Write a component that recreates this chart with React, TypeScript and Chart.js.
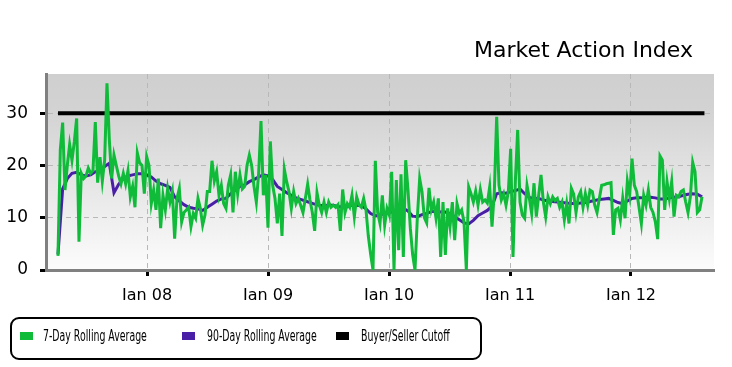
import React, { useEffect, useRef } from 'react';
import { Chart, registerables } from 'chart.js';

Chart.register(...registerables);

const TITLE = 'Market Action Index';
const SERIES_LABELS = ['7-Day Rolling Average', '90-Day Rolling Average', 'Buyer/Seller Cutoff'];
const SERIES_COLORS = ['#10bb3a', '#4a1fa8', '#000000'];

const X_TICK_YEARS = [2008, 2009, 2010, 2011, 2012];
const X_TICK_LABELS = ['Jan 08', 'Jan 09', 'Jan 10', 'Jan 11', 'Jan 12'];
const Y_TICKS = [0, 10, 20, 30];
const X_MIN = 2007.165;
const X_MAX = 2012.686;
const Y_MAX = 37.5;

// first and last weekly reading (fractional years)
const SERIES_START = 2007.264;
const SERIES_END = 2012.587;
const CUTOFF = 30;

// 7-day rolling average, weekly readings
const GREEN_2007 = [2.7, 23, 28.2, 15.3, 20, 24, 21, 24.5, 29, 5.4, 18.5, 17.5, 18, 19.5, 18.5, 19, 28.3, 16.7, 21.6, 17, 21, 35.7, 25, 17.5, 22, 20, 18, 16.5, 18.5, 16.5, 19, 14, 16, 12, 22.4, 20.5, 20, 14.6, 21.7];
const GREEN_2008 = [20, 12.7, 15.3, 11.5, 17.5, 8, 14.3, 11.5, 15.6, 13, 15, 6, 13.7, 15.6, 9.2, 11, 11.5, 12, 8.3, 10.8, 9.9, 13.7, 11.8, 8.6, 10.5, 15, 15, 20.9, 17, 18.8, 14.3, 16.2, 12.7, 11.8, 16.2, 18.2, 11, 18.8, 14.6, 18.2, 15.5, 16, 20, 22, 20, 16, 13, 18.5, 28.5, 14.3, 18.2, 8.1];
const GREEN_2009 = [24.6, 16.2, 13.7, 8.9, 14.6, 6.5, 19.3, 16.9, 15, 11.8, 15, 12.7, 13.7, 12.4, 11, 13.7, 16.4, 13.4, 11, 7.5, 14.8, 12.4, 11, 13, 11, 13, 12, 12.4, 12, 12.5, 7.5, 15.4, 11, 12.7, 12, 14.3, 10.2, 14, 12.5, 12, 13.7, 11.5, 6.5, 3, 0, 20.9, 11, 8.9, 14.3, 8.6, 11.8];
const GREEN_2010 = [10.5, 18.8, 0, 17.2, 3.8, 18.3, 2.5, 21, 15.3, 8, 2.9, 0, 10, 17.5, 15, 10, 9, 15.7, 11.5, 13, 9.9, 13.7, 2.5, 13, 2.9, 11.8, 8.3, 13, 5.7, 12.7, 10.8, 11.5, 9.2, 0, 15.9, 14.6, 13, 15.1, 12.4, 15.4, 13, 13.4, 12.8, 15.9, 8.3, 15, 29.3, 16.2, 13.4, 14.6, 12.4, 15];
const GREEN_2011 = [23.2, 2.5, 16.9, 26.8, 13, 10.5, 9.9, 16.2, 13.7, 10.8, 16.6, 10.2, 14.3, 18.2, 13, 10.2, 14, 12.7, 14, 13.3, 13.7, 12, 13, 9.6, 12.7, 8.9, 15.6, 14.5, 11, 14, 15, 12, 14.6, 12.4, 15.3, 15, 12.4, 11, 13.7, 16.2, 16.3, 16.5, 16.6, 16.7, 6.7, 11.5, 11.8, 9.6, 13.7, 9.9, 17, 14.3];
const GREEN_2012 = [21.3, 16.2, 15, 12, 8.9, 14.3, 12.4, 15.3, 12, 11, 9.2, 5.9, 21.8, 21, 11.5, 16.9, 13.7, 16.9, 10.2, 14.3, 14, 15, 15.3, 13, 11, 14, 20.6, 18.8, 11, 11.5, 14];

// 90-day rolling average, every second week
const PURPLE_2007 = [3, 15.5, 17.5, 18.5, 18.7, 18.2, 18, 18.2, 18.8, 18.8, 19.8, 20.4, 14.8, 16.4, 17.5, 18, 18.2, 18.4, 18.4, 18.2];
const PURPLE_2008 = [17.8, 17, 16.5, 16.2, 15.8, 14, 13.2, 12.5, 12, 11.8, 11.7, 11.4, 12, 12.6, 13.2, 13.6, 13.7, 14.6, 15.3, 16, 16.3, 16.9, 17.3, 17.8, 18.2, 18];
const PURPLE_2009 = [17.3, 16, 15.4, 14.8, 14.3, 13.8, 13.5, 13.2, 12.9, 12.6, 12.4, 12.3, 12.4, 12.4, 12.1, 12.1, 12.1, 12.4, 12.4, 12.3, 11.7, 10.8, 10.4, 10.5, 10.8];
const PURPLE_2010 = [11, 11.2, 11.5, 11.8, 11.3, 10.3, 10.2, 10.6, 10.8, 11.2, 11.2, 11.1, 11.1, 10.8, 10.2, 9.6, 9, 8.8, 9.5, 10.4, 10.9, 11.4, 12.2, 14.6, 14.8, 14.7];
const PURPLE_2011 = [15, 15.2, 15.5, 14.6, 13.9, 13.7, 13.7, 13.4, 13.2, 13.1, 13, 12.9, 12.8, 12.7, 12.7, 12.8, 12.9, 13.1, 13.3, 13.5, 13.6, 13.7, 13.3, 12.9, 12.7, 13.2];
const PURPLE_2012 = [13.7, 13.8, 13.8, 13.9, 13.9, 13.8, 13.6, 13.6, 13.8, 13.9, 14, 14.3, 14.5, 14.6, 14.5, 14];

const FONT = "'DejaVu Sans', sans-serif";

const bgPlugin = {
  id: 'plotBackground',
  beforeDraw(chart: any) {
    const { ctx, chartArea: a } = chart;
    const g = ctx.createLinearGradient(0, a.top, 0, a.bottom);
    g.addColorStop(0, '#cfcfcf');
    g.addColorStop(0.2, '#d3d3d3');
    g.addColorStop(1, '#fcfcfc');
    ctx.save();
    ctx.fillStyle = g;
    ctx.fillRect(a.left, a.top, a.right - a.left, a.bottom - a.top);
    ctx.restore();
  },
};

export default function App() {
  const ref = useRef<HTMLCanvasElement>(null);

  useEffect(() => {
    const green = [...GREEN_2007, ...GREEN_2008, ...GREEN_2009, ...GREEN_2010, ...GREEN_2011, ...GREEN_2012];
    const purple = [...PURPLE_2007, ...PURPLE_2008, ...PURPLE_2009, ...PURPLE_2010, ...PURPLE_2011, ...PURPLE_2012];
    const step = (SERIES_END - SERIES_START) / (green.length - 1);
    const greenPts = green.map((v, i) => ({ x: SERIES_START + i * step, y: v }));
    const purplePts = purple.map((v, j) => ({ x: SERIES_START + 2 * j * step, y: v }));
    const cutoffPts = [
      { x: SERIES_START, y: CUTOFF },
      { x: SERIES_END + 0.02, y: CUTOFF },
    ];

    const gridCommon = {
      color: '#b8b8b8',
      lineWidth: 1,
      drawTicks: true,
      tickColor: '#000000',
      tickWidth: 3,
      tickLength: 6,
    };
    const borderCommon = { display: true, color: '#808080', width: 3, dash: [5, 4] };

    const chart = new Chart(ref.current as HTMLCanvasElement, {
      type: 'line',
      data: {
        datasets: [
          { label: SERIES_LABELS[0], data: greenPts, borderColor: SERIES_COLORS[0], backgroundColor: SERIES_COLORS[0], borderWidth: 3, pointRadius: 0, tension: 0 },
          { label: SERIES_LABELS[1], data: purplePts, borderColor: SERIES_COLORS[1], backgroundColor: SERIES_COLORS[1], borderWidth: 3, pointRadius: 0, tension: 0 },
          { label: SERIES_LABELS[2], data: cutoffPts, borderColor: SERIES_COLORS[2], backgroundColor: SERIES_COLORS[2], borderWidth: 4, pointRadius: 0, tension: 0 },
        ],
      } as any,
      options: {
        animation: false,
        responsive: false,
        devicePixelRatio: 1,
        layout: { padding: { top: 74, left: 0, right: 18, bottom: 67 } },
        plugins: {
          legend: { display: false },
          title: { display: false },
          tooltip: { enabled: false },
        },
        scales: {
          x: {
            type: 'linear',
            min: X_MIN,
            max: X_MAX,
            afterBuildTicks: (s: any) => {
              s.ticks = X_TICK_YEARS.map((v) => ({ value: v }));
            },
            afterFit: (s: any) => {
              s.height = 30;
            },
            ticks: {
              autoSkip: false,
              maxRotation: 0,
              padding: 10,
              color: '#000000',
              font: { family: FONT, size: 16 },
              callback: (v: any) => {
                const k = X_TICK_YEARS.indexOf(Number(v));
                return k >= 0 ? X_TICK_LABELS[k] : '';
              },
            },
            grid: gridCommon,
            border: borderCommon,
          },
          y: {
            min: 0,
            max: Y_MAX,
            afterBuildTicks: (s: any) => {
              s.ticks = Y_TICKS.map((v) => ({ value: v }));
            },
            afterFit: (s: any) => {
              s.width = 46;
            },
            ticks: {
              padding: 12,
              color: '#000000',
              font: { family: FONT, size: 17 },
            },
            grid: gridCommon,
            border: borderCommon,
          },
        },
      } as any,
      plugins: [bgPlugin],
    });
    return () => chart.destroy();
  }, []);

  const legendText: React.CSSProperties = {
    position: 'absolute',
    top: 328,
    fontFamily: FONT,
    fontSize: 15,
    lineHeight: '17px',
    whiteSpace: 'nowrap',
    color: '#000',
    transform: 'scaleX(0.625)',
    transformOrigin: 'left center',
  };
  const sq = (left: number, color: string): React.CSSProperties => ({
    position: 'absolute',
    left,
    top: 332,
    width: 13,
    height: 8,
    background: color,
  });

  return (
    <div style={{ position: 'fixed', left: 0, top: 0, width: 732, height: 367, background: '#ffffff', overflow: 'hidden' }}>
      <canvas ref={ref} width={732} height={367} style={{ position: 'absolute', left: 0, top: 0, width: 732, height: 367 }} />
      <div
        style={{
          position: 'absolute',
          right: 39,
          top: 39,
          fontFamily: FONT,
          fontSize: 22,
          lineHeight: '22px',
          color: '#000',
          whiteSpace: 'nowrap',
        }}
      >
        {TITLE}
      </div>
      <div
        style={{
          position: 'absolute',
          left: 10,
          top: 317,
          width: 472,
          height: 43,
          boxSizing: 'border-box',
          border: '2px solid #000',
          borderRadius: 9,
        }}
      />
      <div style={sq(20, SERIES_COLORS[0])} />
      <div style={{ ...legendText, left: 43 }}>{SERIES_LABELS[0]}</div>
      <div style={sq(182, SERIES_COLORS[1])} />
      <div style={{ ...legendText, left: 207 }}>{SERIES_LABELS[1]}</div>
      <div style={sq(336, SERIES_COLORS[2])} />
      <div style={{ ...legendText, left: 361 }}>{SERIES_LABELS[2]}</div>
    </div>
  );
}
